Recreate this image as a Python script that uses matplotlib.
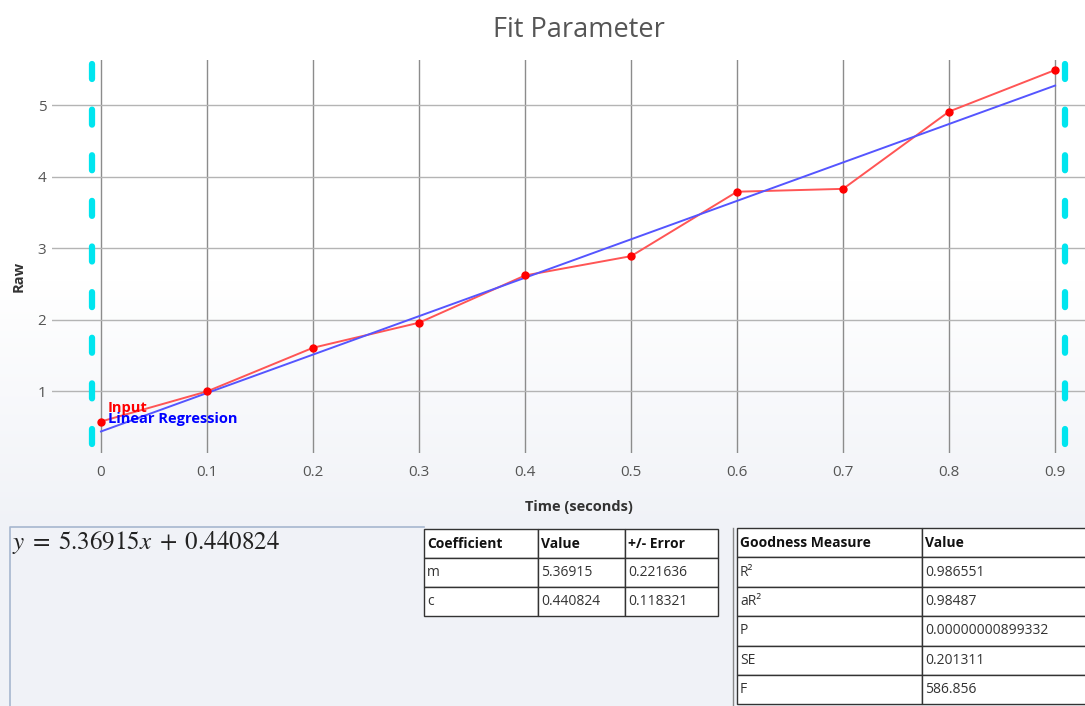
import numpy as np
import matplotlib
matplotlib.use("Agg")
import matplotlib.pyplot as plt
from matplotlib.patches import Rectangle

plt.rcParams['font.family'] = ['Open Sans', 'DejaVu Sans']

# данные
time_s = [0.0, 0.1, 0.2, 0.3, 0.4, 0.5, 0.6, 0.7, 0.8, 0.9]
raw = [0.58, 1.00, 1.61, 1.96, 2.62, 2.89, 3.79, 3.83, 4.91, 5.49]
slope = 5.36915
intercept = 0.440824
cursor_x = [-0.0085, 0.909]   # голубые пунктирные границы

coef_header = ["Coefficient", "Value", "+/- Error"]
coef_rows = [["m", "5.36915", "0.221636"],
             ["c", "0.440824", "0.118321"]]
good_header = ["Goodness Measure", "Value"]
good_rows = [["R²", "0.986551"],
             ["aR²", "0.98487"],
             ["P", "0.00000000899332"],
             ["SE", "0.201311"],
             ["F", "586.856"]]

W, H = 1085, 706
fig = plt.figure(figsize=(W / 100, H / 100), dpi=100)

# фон с градиентом
bg = fig.add_axes([0, 0, 1, 1], zorder=-10)
rows = np.arange(H)
t = np.clip((rows - 280) / 250.0, 0, 1)
top = np.array([1.0, 1.0, 1.0])
bot = np.array([240, 242, 247]) / 255.0
grad = top[None, :] * (1 - t[:, None]) + bot[None, :] * t[:, None]
bg.imshow(grad[:, None, :], aspect='auto', extent=[0, 1, 0, 1])
bg.axis('off')

# основной график (правая часть обрезана, как на скриншоте)
px_left, px_right, px_top, px_bot = 52, 1106, 60, 453
ax = fig.add_axes([px_left / W, 1 - px_bot / H, (px_right - px_left) / W, (px_bot - px_top) / H])
ax.patch.set_alpha(0)
ax.set_xlim(-0.0462, 0.948)
ax.set_ylim(0.14, 5.63)
for s in ax.spines.values():
    s.set_visible(False)
ax.set_xticks(time_s)
ax.set_xticklabels(["0", "0.1", "0.2", "0.3", "0.4", "0.5", "0.6", "0.7", "0.8", "0.9"])
ax.set_yticks([1, 2, 3, 4, 5])
ax.tick_params(axis='both', length=0, labelsize=11, colors='#555555')
ax.tick_params(axis='x', pad=9)
ax.tick_params(axis='y', pad=4)
ax.grid(True, axis='x', color='#8c8c8c', linewidth=1.0)
ax.grid(True, axis='y', color='#b4b4b4', linewidth=1.0)

ylo, yhi = ax.get_ylim()
for cx in cursor_x:
    ax.plot([cx, cx], [yhi - 0.05, ylo], color='#00e5ef', linewidth=4.5,
            linestyle=(0, (2.4, 4.9)), solid_capstyle='round', dash_capstyle='round',
            zorder=3, clip_on=False)

fit_x = np.array([time_s[0], time_s[-1]])
ax.plot(time_s, raw, color='#ff5555', linewidth=1.4, zorder=4)
ax.plot(time_s, raw, 'o', color='#ff0000', markersize=5, zorder=5)
ax.plot(fit_x, slope * fit_x + intercept, color='#5555ff', linewidth=1.4, zorder=4)

# подписи серий (в оригинале они наложены друг на друга)
ax.text(0.0066, 0.77, "Input", color='red', fontsize=10.5, fontweight='bold', va='center', zorder=6)
ax.text(0.0066, 0.61, "Linear Regression", color='blue', fontsize=10.5, fontweight='bold', va='center', zorder=6)

ax.set_xlabel("Time (seconds)", fontsize=10.5, fontweight='bold', color='#333333')
ax.xaxis.set_label_coords(0.5, -0.12)
ax.set_ylabel("Raw", fontsize=10.5, fontweight='bold', color='#333333')
ax.yaxis.set_label_coords(-0.025, 0.45)

fig.text(579 / W, 1 - 30 / H, "Fit Parameter", ha='center', va='center', fontsize=19.5, color='#555555')

# нижняя панель в пиксельных координатах
ov = fig.add_axes([0, 0, 1, 1], zorder=5)
ov.set_xlim(0, W)
ov.set_ylim(H, 0)
ov.axis('off')
ov.patch.set_alpha(0)

ov.plot([10, 10, 424], [720, 527, 527], color='#a6b6cf', linewidth=1.2)
ov.text(12, 542, r"$y\;=\;%g x\;+\;%g$" % (slope, intercept), fontsize=18, va='center',
        math_fontfamily='stix', color='#222222')


def draw_table(x0, y0, col_w, row_h, header, body):
    table = [header] + body
    for r, row in enumerate(table):
        x = x0
        for c, val in enumerate(row):
            y = y0 + r * row_h
            ov.add_patch(Rectangle((x, y), col_w[c], row_h, facecolor='white',
                                   edgecolor='#333333', linewidth=1.0))
            ov.text(x + 3, y + row_h / 2, val, fontsize=10, va='center', ha='left',
                    color='#111111' if r == 0 else '#333333',
                    fontweight='bold' if r == 0 else 'normal')
            x += col_w[c]


draw_table(424, 529, [114, 87, 93], 29, coef_header, coef_rows)
draw_table(737, 528, [185, 200], 29.4, good_header, good_rows)
ov.plot([733, 733], [528, 720], color='#888888', linewidth=1.0)

fig.savefig("out.png", dpi=100)
